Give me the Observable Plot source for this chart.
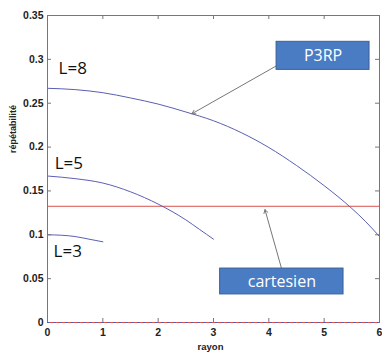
<!DOCTYPE html>
<html><head><meta charset="utf-8">
<script src="https://cdn.jsdelivr.net/npm/d3@7"></script>
<script src="https://cdn.jsdelivr.net/npm/@observablehq/plot@0.6"></script>
<style>body{margin:0;background:#fff}</style>
</head><body><div id="chart"></div>
<script>
const xTicks = [0, 1, 2, 3, 4, 5, 6];
const yTicks = [0, 0.05, 0.1, 0.15, 0.2, 0.25, 0.3, 0.35];
const yTickLabels = ["0", "0.05", "0.1", "0.15", "0.2", "0.25", "0.3", "0.35"];

const rayonL8 = [0, 0.5, 1.0, 1.5, 2.0, 2.5, 3.0, 3.5, 4.0, 4.5, 5.0, 5.5, 5.75, 6.0];
const repL8   = [0.267, 0.2655, 0.262, 0.256, 0.249, 0.240, 0.230, 0.2165, 0.1995, 0.179, 0.156, 0.130, 0.115, 0.098];
const rayonL5 = [0, 0.5, 1.0, 1.5, 2.0, 2.5, 2.75, 3.0];
const repL5   = [0.167, 0.164, 0.159, 0.149, 0.135, 0.117, 0.106, 0.095];
const rayonL3 = [0, 0.25, 0.5, 0.75, 1.0];
const repL3   = [0.100, 0.0995, 0.098, 0.095, 0.092];
const cartesien = 0.1325;
const zeroLevel = 0;

const curveLabels = ["L=8", "L=5", "L=3"];
const curveLabelX = [0.2, 0.13, 0.11];
const curveLabelY = [0.29, 0.181, 0.081];

const boxNames = ["P3RP", "cartesien"];
const boxX1 = [4.14, 3.12], boxX2 = [5.82, 5.35];
const boxY1 = [0.288, 0.032], boxY2 = [0.320, 0.0615];
const arrowX1 = [4.14, 4.23], arrowY1 = [0.2927, 0.0615];
const arrowX2 = [2.61, 3.93], arrowY2 = [0.238, 0.1287];

const toPts = (xs, ys) => xs.map((x, i) => ({x, y: ys[i]}));
const boxes = boxNames.map((n, i) => ({n, x1: boxX1[i], x2: boxX2[i], y1: boxY1[i], y2: boxY2[i], cx: (boxX1[i] + boxX2[i]) / 2, cy: (boxY1[i] + boxY2[i]) / 2}));
const arrows = boxNames.map((n, i) => ({x1: arrowX1[i], y1: arrowY1[i], x2: arrowX2[i], y2: arrowY2[i]}));
const labels = curveLabels.map((t, i) => ({t, x: curveLabelX[i], y: curveLabelY[i]}));

const W = 382, H = 355, ML = 47, MR = 3, MT = 15, MB = 33;
const PW = W - ML - MR, PH = H - MT - MB, TK = 4;
const lineColor = "#5b5fb3";
const tickColor = "#777";
const chart = Plot.plot({
  width: W, height: H,
  marginLeft: ML, marginRight: MR, marginTop: MT, marginBottom: MB,
  x: {domain: [0, 6]},
  y: {domain: [0, 0.35]},
  style: {fontFamily: "Liberation Sans, Arial, sans-serif", background: "#fff"},
  marks: [
    Plot.ruleY([cartesien], {x1: 0, x2: 6, stroke: "#d9534f", strokeWidth: 1}),
    Plot.line(toPts(rayonL8, repL8), {x: "x", y: "y", stroke: lineColor, strokeWidth: 1, curve: "monotone-x"}),
    Plot.line(toPts(rayonL5, repL5), {x: "x", y: "y", stroke: lineColor, strokeWidth: 1, curve: "monotone-x"}),
    Plot.line(toPts(rayonL3, repL3), {x: "x", y: "y", stroke: lineColor, strokeWidth: 1, curve: "monotone-x"}),
    Plot.frame({stroke: tickColor}),
    Plot.tickX(xTicks, {x: d => d, stroke: tickColor, insetTop: PH - TK}),
    Plot.tickX(xTicks, {x: d => d, stroke: tickColor, insetBottom: PH - TK}),
    Plot.tickY(yTicks, {y: d => d, stroke: tickColor, insetRight: PW - TK}),
    Plot.tickY(yTicks, {y: d => d, stroke: tickColor, insetLeft: PW - TK}),
    Plot.ruleY([zeroLevel], {x1: 0, x2: 6, stroke: "#d9534f", strokeWidth: 1.2}),
    Plot.ruleY([zeroLevel], {x1: 0, x2: 6, stroke: "#4a5fc0", strokeWidth: 1.2, strokeDasharray: "3,3"}),
    Plot.axisX(xTicks, {anchor: "bottom", tickSize: 0, tickPadding: 6, fontWeight: "bold", fontSize: 10.5, label: null, fill: "#222"}),
    Plot.axisY(yTicks, {anchor: "left", tickSize: 0, tickPadding: 4, tickFormat: (d, i) => yTickLabels[i], fontWeight: "bold", fontSize: 10.5, label: null, fill: "#222"}),
    Plot.text(labels, {x: "x", y: "y", text: "t", textAnchor: "start", fontSize: 17, fontFamily: "Open Sans, sans-serif", fill: "#111"}),
    Plot.arrow(arrows, {x1: "x1", y1: "y1", x2: "x2", y2: "y2", stroke: "#777", strokeWidth: 1, headLength: 6}),
    Plot.rect(boxes, {x1: "x1", x2: "x2", y1: "y1", y2: "y2", fill: "#4a7cc4", stroke: "#3a5f96", strokeWidth: 1}),
    Plot.text(boxes, {x: "cx", y: "cy", text: "n", fill: "#fff", fontSize: 16, fontFamily: "Open Sans, sans-serif"}),
    Plot.text(["rayon"], {frameAnchor: "bottom", dx: -3, dy: 27, fontWeight: "bold", fontSize: 9.5, fill: "#222"}),
    Plot.text(["répétabilité"], {frameAnchor: "left", dx: -34, dy: -16, rotate: -90, fontWeight: "bold", fontSize: 9, fill: "#222"})
  ]
});
document.getElementById("chart").appendChild(chart);
</script>
</body></html>
